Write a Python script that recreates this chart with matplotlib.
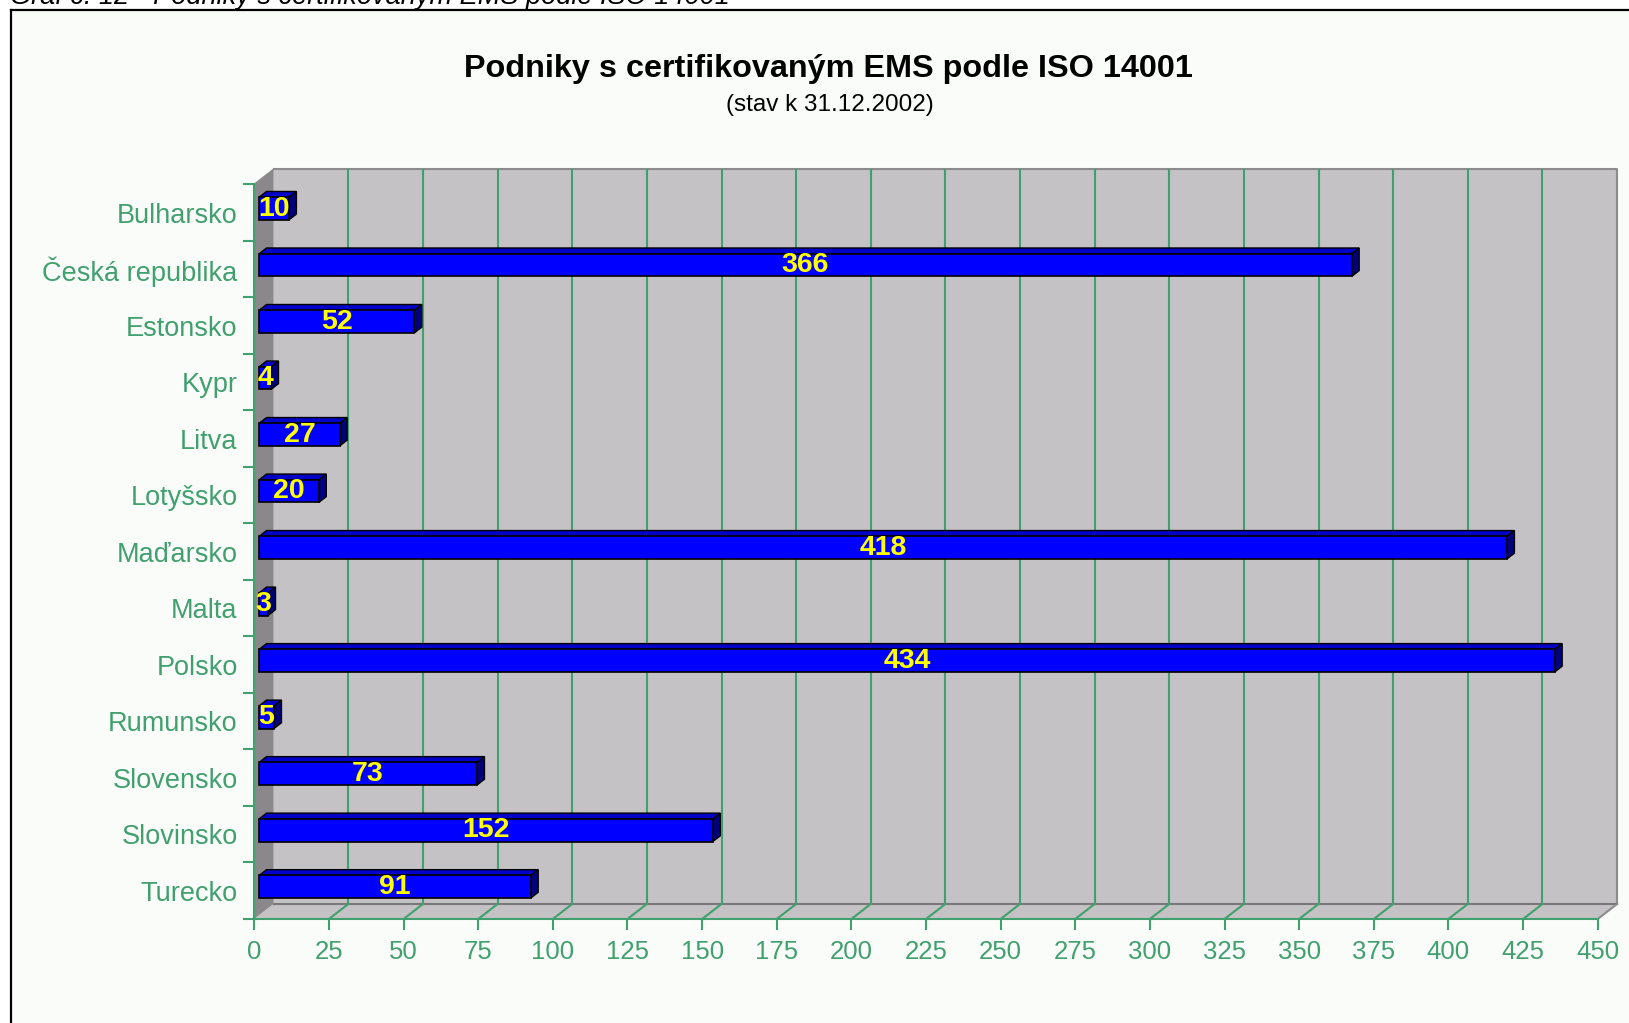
import numpy as np
import matplotlib.pyplot as plt
from matplotlib.patches import Polygon, Rectangle
from matplotlib.lines import Line2D

plt.rcParams['font.family'] = ['Liberation Sans', 'DejaVu Sans']

countries = ['Bulharsko', 'Česká republika', 'Estonsko', 'Kypr', 'Litva', 'Lotyšsko',
             'Maďarsko', 'Malta', 'Polsko', 'Rumunsko', 'Slovensko', 'Slovinsko', 'Turecko']
values = [10, 366, 52, 4, 27, 20, 418, 3, 434, 5, 73, 152, 91]
xticks = np.arange(0, 451, 25)

title = 'Podniky s certifikovaným EMS podle ISO 14001'
subtitle = '(stav k 31.12.2002)'
caption = 'Graf č. 12 - Podniky s certifikovaným EMS podle ISO 14001'

green = '#41a06e'
wall = '#c4c2c5'
side_wall = '#8a888a'
edge_gray = '#8c8c8c'

W, H = 1629, 1023
fig = plt.figure(figsize=(W / 100, H / 100), dpi=100)
fig.patch.set_facecolor('white')
fig.patches.append(Rectangle((11 / W, 0), 1, 1 - 10 / H, transform=fig.transFigure,
                             facecolor='#fafcfa', edgecolor='none', zorder=-10))
fig.lines.append(Line2D([11 / W, 1], [1 - 10 / H, 1 - 10 / H], transform=fig.transFigure,
                        color='black', lw=1.6))
fig.lines.append(Line2D([11 / W, 11 / W], [0, 1 - 10 / H], transform=fig.transFigure,
                        color='black', lw=1.6))

# caption sits above the frame and is clipped by the page edge, as in the source
fig.text(10 / W, 1 - 3.5 / H, caption, ha='left', va='baseline', fontsize=19.5, style='italic')
fig.text(828 / W, 1 - 69 / H, title, ha='center', va='center', fontsize=23.3, fontweight='bold')
fig.text(829.6 / W, 1 - 105 / H, subtitle, ha='center', va='center', fontsize=17.5)

ax = fig.add_axes([254.3 / W, 1 - 919 / H, 1343.4 / W, (919 - 184.3) / H])
n = len(countries)
xmax = xticks[-1]
ax.set_xlim(0, xmax)
ax.set_ylim(n, 0)
ax.patch.set_visible(False)

# 3D walls
dx, dy = 6.5, 0.266
ax.add_patch(Polygon([(dx, -dy), (xmax + dx, -dy), (xmax + dx, n - dy), (dx, n - dy)],
                     closed=True, facecolor=wall, edgecolor='none', clip_on=False, zorder=0))
ax.add_patch(Polygon([(0, 0), (dx, -dy), (dx, n - dy), (0, n)],
                     closed=True, facecolor=side_wall, edgecolor='none', clip_on=False, zorder=0))
ax.add_patch(Polygon([(0, n), (dx, n - dy), (xmax + dx, n - dy), (xmax, n)],
                     closed=True, facecolor=wall, edgecolor='none', clip_on=False, zorder=0))
ax.plot([dx, xmax + dx, xmax + dx], [-dy, -dy, n - dy], color=edge_gray, lw=1.5, clip_on=False, zorder=1)
ax.plot([0, dx], [0, -dy], color=edge_gray, lw=1.2, clip_on=False, zorder=1)
ax.plot([dx, xmax + dx], [n - dy, n - dy], color='#7a787a', lw=1.5, clip_on=False, zorder=1)
ax.plot([xmax, xmax + dx], [n, n - dy], color=edge_gray, lw=1.5, clip_on=False, zorder=1)

ax.vlines(xticks[1:-1] + dx, -dy, n - dy, color=green, lw=1.5, clip_on=False, zorder=1.5)
for x in xticks[1:-1]:
    ax.plot([x, x + dx], [n, n - dy], color=green, lw=1.5, clip_on=False, zorder=1.5)

# bars
ox, oy, h = 1.6, -0.07, 0.4
bdx, bdy = 2.5, 0.103
yc = np.arange(n) + 0.5 + oy
for v, y in zip(values, yc):
    top = y - h / 2
    bot = y + h / 2
    ax.add_patch(Polygon([(ox, top), (ox + bdx, top - bdy), (ox + v + bdx, top - bdy), (ox + v, top)],
                         closed=True, facecolor='#0000c8', edgecolor='black', lw=1.0, zorder=2.5))
    ax.add_patch(Polygon([(ox + v, top), (ox + v + bdx, top - bdy), (ox + v + bdx, bot - bdy), (ox + v, bot)],
                         closed=True, facecolor='#00007a', edgecolor='black', lw=1.0, zorder=2.5))
ax.barh(yc, values, height=h, left=ox, color='#0000ff', edgecolor='black', lw=1.2, zorder=3)
for v, y in zip(values, yc):
    ax.text(ox + v / 2, y, str(v), ha='center', va='center', color='#ffff00',
            fontsize=20.5, fontweight='bold', zorder=5)

# axes
for s in ['top', 'right']:
    ax.spines[s].set_visible(False)
for s in ['left', 'bottom']:
    ax.spines[s].set_color(green)
    ax.spines[s].set_linewidth(1.5)
    ax.spines[s].set_zorder(4)

ax.set_xticks(xticks)
ax.set_xticklabels([str(t) for t in xticks])
ax.tick_params(axis='x', length=7.9, width=1.5, color=green, labelcolor=green,
               labelsize=18.5, pad=7)
ax.set_yticks(np.arange(n) + 0.5)
ax.set_yticklabels(countries)
ax.set_yticks(np.arange(n + 1), minor=True)
ax.tick_params(axis='y', which='major', length=0, labelcolor=green, labelsize=19.5, pad=12)
ax.tick_params(axis='y', which='minor', length=7.9, width=1.5, color=green)

fig.savefig('out.png', dpi=100)
